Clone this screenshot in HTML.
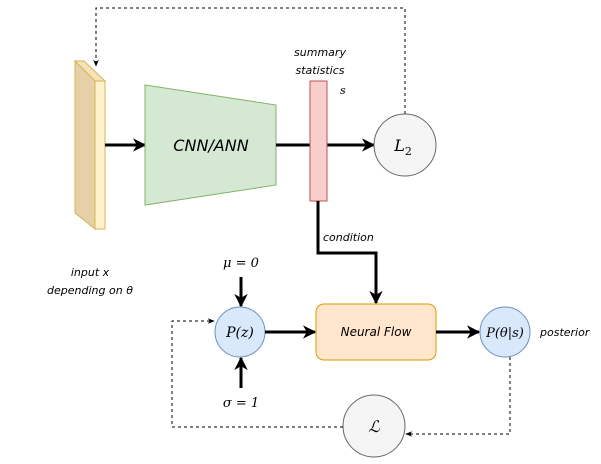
<!DOCTYPE html>
<html><head><meta charset="utf-8"><style>
html,body{margin:0;padding:0;background:#fff}
svg text{font-family:"DejaVu Sans",sans-serif;font-style:italic}
.m{font-family:"DejaVu Serif","Liberation Serif",serif;font-style:italic}
</style></head><body>
<svg width="601" height="459" viewBox="0 0 601 459" xmlns="http://www.w3.org/2000/svg">
<defs>
<marker id="a" viewBox="0 0 10 10" refX="9" refY="5" markerWidth="4.5" markerHeight="4.5" orient="auto"><path d="M0,0 L10,5 L0,10 L3,5 z" fill="#000"/></marker>
<marker id="d" viewBox="0 0 10 10" refX="9" refY="5" markerWidth="7" markerHeight="7" orient="auto"><path d="M0,1 L10,5 L0,9 L3,5 z" fill="#000"/></marker>
</defs>
<polygon points="75,61 95,81 95,229 75,213" fill="#e6d0a8" stroke="#d6b656"/>
<polygon points="75,61 84,61 105,81 95,81" fill="#f5e2b8" stroke="#d6b656"/>
<rect x="95" y="81" width="10" height="148" fill="#fff2cc" stroke="#d6b656"/>
<path d="M405,114 V8 H96 V66" fill="none" stroke="#000" stroke-dasharray="3,3" marker-end="url(#d)"/>
<line x1="105" y1="145" x2="145" y2="145" stroke="#000" stroke-width="3" marker-end="url(#a)"/>
<polygon points="145,85 276,105 276,185 145,205" fill="#d5e8d4" stroke="#82b366"/>
<text x="211" y="151" font-size="16" text-anchor="middle">CNN/ANN</text>
<line x1="276" y1="145" x2="374" y2="145" stroke="#000" stroke-width="3" marker-end="url(#a)"/>
<rect x="310" y="81" width="17" height="120" fill="#f8cecc" stroke="#b85450"/>
<text x="320" y="56" font-size="11" text-anchor="middle">summary</text>
<text x="320" y="74" font-size="11" text-anchor="middle">statistics</text>
<text x="340" y="94" font-size="11" class="m">s</text>
<circle cx="405" cy="145" r="31" fill="#f5f5f5" stroke="#666"/>
<text x="403" y="151" font-size="16" text-anchor="middle" class="m">L<tspan font-size="11" dy="4" font-style="normal">2</tspan></text>
<text x="90" y="276" font-size="11" text-anchor="middle">input x</text>
<text x="90" y="294" font-size="11" text-anchor="middle">depending on θ</text>
<path d="M318,201 V253 H376 V303" fill="none" stroke="#000" stroke-width="3" marker-end="url(#a)"/>
<text x="323" y="241" font-size="11">condition</text>
<rect x="316" y="304" width="120" height="56" rx="8" fill="#ffe6cc" stroke="#d79b00"/>
<text x="376" y="336" font-size="12" text-anchor="middle">Neural Flow</text>
<text x="241" y="267" font-size="13" text-anchor="middle" class="m">μ = 0</text>
<line x1="241" y1="277" x2="241" y2="306" stroke="#000" stroke-width="3" marker-end="url(#a)"/>
<line x1="241" y1="388" x2="241" y2="358" stroke="#000" stroke-width="3" marker-end="url(#a)"/>
<text x="241" y="407" font-size="13" text-anchor="middle" class="m">σ = 1</text>
<circle cx="240" cy="332" r="25" fill="#dae8fc" stroke="#6c8ebf"/>
<text x="240" y="337" font-size="14" text-anchor="middle" class="m">P(z)</text>
<line x1="265" y1="332" x2="315" y2="332" stroke="#000" stroke-width="3" marker-end="url(#a)"/>
<line x1="436" y1="332" x2="479" y2="332" stroke="#000" stroke-width="3" marker-end="url(#a)"/>
<circle cx="505" cy="332" r="25" fill="#dae8fc" stroke="#6c8ebf"/>
<text x="505" y="337" font-size="13" text-anchor="middle" class="m">P(θ|s)</text>
<text x="540" y="336" font-size="11">posterior</text>
<circle cx="374" cy="426" r="31" fill="#f5f5f5" stroke="#666"/>
<text x="374" y="432" font-size="16" text-anchor="middle" class="m">ℒ</text>
<path d="M510,357 V434 H406" fill="none" stroke="#000" stroke-dasharray="3,3" marker-end="url(#d)"/>
<path d="M343,427 H172 V321 H214" fill="none" stroke="#000" stroke-dasharray="3,3" marker-end="url(#d)"/>
</svg>
</body></html>
